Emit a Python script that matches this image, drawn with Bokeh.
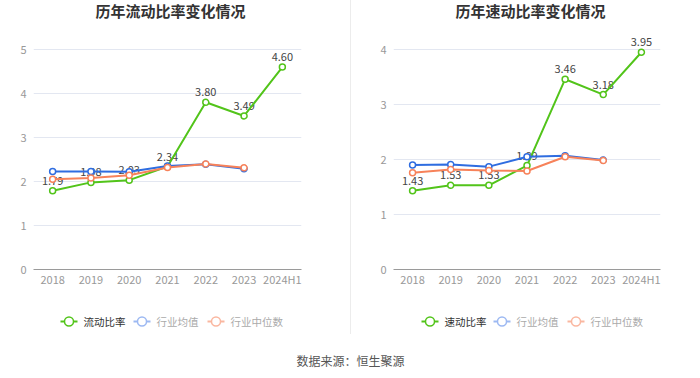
from bokeh.plotting import figure
from bokeh.models import Label, FixedTicker, Range1d, Div
from bokeh.layouts import row, column
from bokeh.embed import file_html
from bokeh.resources import INLINE
from bokeh.core.properties import value

years = ["2018", "2019", "2020", "2021", "2022", "2023", "2024H1"]
industry_years = ["2018", "2019", "2020", "2021", "2022", "2023"]

current_ratio = [1.79, 1.98, 2.03, 2.34, 3.80, 3.49, 4.60]
current_ind_mean = [2.23, 2.23, 2.22, 2.35, 2.39, 2.29]
current_ind_median = [2.05, 2.08, 2.14, 2.32, 2.40, 2.31]

quick_ratio = [1.43, 1.53, 1.53, 1.89, 3.46, 3.18, 3.95]
quick_ind_mean = [1.90, 1.91, 1.87, 2.05, 2.07, 1.99]
quick_ind_median = [1.76, 1.82, 1.80, 1.79, 2.05, 1.98]

FONT = "Noto Sans CJK SC"
GREEN = "#52c41a"
BLUE = "#2f6de0"
ORANGE = "#f7825a"
BLUE_FADE = "#9db9f2"
ORANGE_FADE = "#fab7a0"


def blank(width, height, bl=0, br=0):
    f = figure(width=width, height=height, x_range=Range1d(bl, width - br),
               y_range=Range1d(0, height), output_backend="svg",
               toolbar_location=None, min_border=0,
               min_border_left=bl, min_border_right=br)
    f.axis.visible = False
    f.grid.visible = False
    f.outline_line_color = None
    f.background_fill_color = "white"
    f.border_fill_color = "white"
    return f


def legend_item(f, x0, y, color, text, text_color):
    f.line([x0, x0 + 17], [y, y], color=color, line_width=2)
    f.scatter([x0 + 8.5], [y], size=9, fill_color="white", line_color=color, line_width=1.5)
    f.add_layout(Label(x=x0 + 23, y=y, text=text, text_align="left",
                       text_baseline="middle", text_font=FONT,
                       text_font_size="10.5px", text_color=text_color))


def make_chart(title, main_name, main_vals, mean_vals, median_vals, ymax, yrange_top,
               width, bl, br, bt, title_x, leg_x):
    # title strip
    t = blank(width, 26, bl, br)
    t.add_layout(Label(x=title_x, y=16, text=title, text_align="center",
                       text_baseline="middle", text_font=FONT,
                       text_font_size="15px", text_font_style="bold",
                       text_color="#333333"))

    p = figure(x_range=years, y_range=Range1d(0, yrange_top), width=width, height=272,
               output_backend="svg", toolbar_location=None,
               min_border_left=bl, min_border_right=br,
               min_border_top=bt, min_border_bottom=29)
    p.outline_line_color = None
    p.background_fill_color = "white"
    p.border_fill_color = "white"

    p.xgrid.grid_line_color = None
    p.ygrid.grid_line_color = "#e3e7f1"
    p.ygrid.grid_line_width = 1
    p.yaxis.ticker = FixedTicker(ticks=list(range(0, ymax + 1)))
    p.ygrid.ticker = FixedTicker(ticks=list(range(1, ymax + 1)))
    p.yaxis.axis_line_color = None
    p.yaxis.major_tick_line_color = None
    p.yaxis.minor_tick_line_color = None
    p.yaxis.major_tick_out = 0
    p.yaxis.major_tick_in = 0
    p.yaxis.major_label_standoff = 7
    p.xaxis.axis_line_color = "#9a9a9a"
    p.xaxis.major_tick_line_color = None
    p.xaxis.minor_tick_line_color = None
    p.xaxis.major_tick_out = 0
    p.xaxis.major_tick_in = 0
    p.xaxis.major_label_standoff = 1
    for ax in (p.xaxis, p.yaxis):
        ax.major_label_text_font = FONT
        ax.major_label_text_font_size = "11px"
        ax.major_label_text_color = "#999999"

    labels = ["%.2f" % v for v in main_vals]
    p.text(x=years, y=main_vals, text=labels, text_align="center",
           text_baseline="bottom", y_offset=-6, text_font=value(FONT),
           text_font_size="11px", text_color="#444444")

    p.line(years, main_vals, color=GREEN, line_width=2)
    p.scatter(years, main_vals, size=6, fill_color="white", line_color=GREEN, line_width=1.5)
    p.line(industry_years, mean_vals, color=BLUE, line_width=2)
    p.scatter(industry_years, mean_vals, size=6, fill_color="white", line_color=BLUE, line_width=1.5)
    p.line(industry_years, median_vals, color=ORANGE, line_width=2)
    p.scatter(industry_years, median_vals, size=6, fill_color="white", line_color=ORANGE, line_width=1.5)

    # legend strip
    lg = blank(width, 36, bl, br)
    legend_item(lg, leg_x[0], 13, GREEN, main_name, "#333333")
    legend_item(lg, leg_x[1], 13, BLUE_FADE, "行业均值", "#aaaaaa")
    legend_item(lg, leg_x[2], 13, ORANGE_FADE, "行业中位数", "#aaaaaa")
    return column(t, p, lg)


c1 = make_chart("历年流动比率变化情况", "流动比率", current_ratio, current_ind_mean,
                current_ind_median, 5, 233 / 44.0, 350, 33, 49, 10, 170, (60, 133, 207))
c2 = make_chart("历年速动比率变化情况", "速动比率", quick_ratio, quick_ind_mean,
                quick_ind_median, 4, 239 / 55.0, 349, 42, 40, 4, 179, (70, 142, 216))

divider = Div(width=1, height=334, margin=0, styles={"background-color": "#ececec"})

src_fig = blank(700, 44)
src_fig.add_layout(Label(x=350, y=18, text="数据来源：恒生聚源", text_align="center",
                         text_baseline="middle", text_font=FONT, text_font_size="12px",
                         text_color="#555555"))

layout = column(row(c1, divider, c2), src_fig)

open("out.html", "w").write(file_html(layout, INLINE))
